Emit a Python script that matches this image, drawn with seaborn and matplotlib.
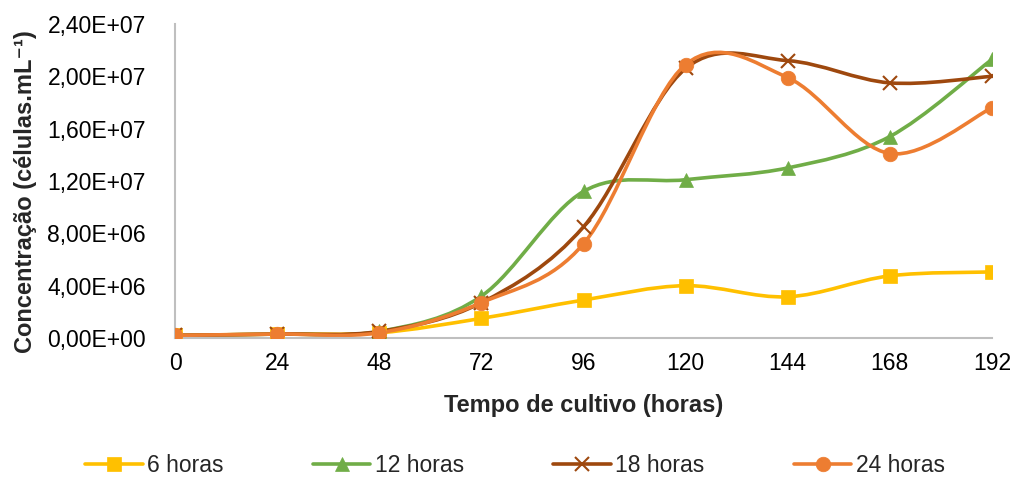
import numpy as np
import pandas as pd
import matplotlib
matplotlib.use("Agg")
import matplotlib.pyplot as plt
from matplotlib.path import Path
from matplotlib.patches import PathPatch
from matplotlib.lines import Line2D
from matplotlib.ticker import FuncFormatter
import seaborn as sns

# data
horas = [0, 24, 48, 72, 96, 120, 144, 168, 192]
h6 = [2.0e5, 3.0e5, 4.0e5, 1.5e6, 2.9e6, 4.0e6, 3.15e6, 4.75e6, 5.05e6]
h12 = [2.0e5, 3.0e5, 5.0e5, 3.2e6, 11.2e6, 12.1e6, 13.0e6, 15.4e6, 21.3e6]
h18 = [2.0e5, 3.0e5, 5.0e5, 2.7e6, 8.5e6, 20.6e6, 21.2e6, 19.5e6, 20.0e6]
h24 = [2.0e5, 3.0e5, 4.0e5, 2.7e6, 7.2e6, 20.9e6, 19.9e6, 14.1e6, 17.6e6]

series = ["6 horas", "12 horas", "18 horas", "24 horas"]
values = [h6, h12, h18, h24]
colors = ["#FFC000", "#70AD47", "#9E480E", "#ED7D31"]
markers = ["s", "^", "x", "o"]
msizes = [9.5, 10.5, 9.5, 10.5]

sns.set_style("white")
plt.rcParams['font.family'] = ['Liberation Sans', 'DejaVu Sans']

df = pd.DataFrame({"horas": horas * 4,
                   "conc": sum(values, []),
                   "serie": np.repeat(series, len(horas))})

fig = plt.figure(figsize=(10.14, 4.79), dpi=100)
ax = fig.add_axes([175/1014, 1 - 338/479, (992-175)/1014, (338-24)/479])


def smooth_path(x, y, k=1/6):
    # excel-like smoothed line: catmull-rom turned into cubic bezier segments
    x = np.asarray(x, float); y = np.asarray(y, float)
    n = len(x)
    verts = [(x[0], y[0])]
    codes = [Path.MOVETO]
    for i in range(n - 1):
        i0 = max(i - 1, 0); i3 = min(i + 2, n - 1)
        c1 = (x[i] + (x[i+1] - x[i0]) * k, y[i] + (y[i+1] - y[i0]) * k)
        c2 = (x[i+1] - (x[i3] - x[i]) * k, y[i+1] - (y[i3] - y[i]) * k)
        verts += [c1, c2, (x[i+1], y[i+1])]
        codes += [Path.CURVE4] * 3
    return Path(verts, codes)


for name, vals, c, m, ms in zip(series, values, colors, markers, msizes):
    patch = PathPatch(smooth_path(horas, vals), facecolor="none", edgecolor=c,
                      lw=2.6, capstyle="round", zorder=2)
    ax.add_patch(patch)
    sub = df[df["serie"] == name]
    sns.lineplot(data=sub, x="horas", y="conc", ax=ax, color=c, marker=m,
                 markersize=ms, markeredgewidth=1.5 if m == "x" else 0.5,
                 markeredgecolor=c, linestyle="", zorder=3, legend=False)

ax.set_xlim(0, 192)
ax.set_ylim(0, 2.4e7)
ax.set_xticks(horas)
ax.set_yticks(np.arange(0, 2.41e7, 4e6))
ax.yaxis.set_major_formatter(FuncFormatter(lambda v, p: f"{v:.2E}".replace(".", ",")))
ax.tick_params(axis="both", length=0, labelsize=16.5, colors="black")
ax.tick_params(axis="y", pad=21)
ax.tick_params(axis="x", pad=10)

for s in ["top", "right"]:
    ax.spines[s].set_visible(False)
for s in ["left", "bottom"]:
    ax.spines[s].set_color("#BFBFBF")
    ax.spines[s].set_linewidth(1.5)

ax.set_xlabel("Tempo de cultivo (horas)", fontsize=17, fontweight="bold", labelpad=14)
ax.set_ylabel("")
fig.text(26/1014, 1 - 192/479, "Concentração (células.mL⁻¹)", rotation=90,
         ha="center", va="center", fontsize=17, fontweight="bold")

handles = [Line2D([0], [0], color=c, lw=2.6, marker=m, markersize=ms,
                  markeredgewidth=1.5 if m == "x" else 0.5, markeredgecolor=c)
           for c, m, ms in zip(colors, markers, msizes)]
fig.legend(handles, series, loc="center", bbox_to_anchor=(515/1014, 1 - 466/479),
           ncol=4, frameon=False, fontsize=16.5, handlelength=2.5, handletextpad=0.2,
           columnspacing=3.9)

fig.savefig("out.png", dpi=100)
